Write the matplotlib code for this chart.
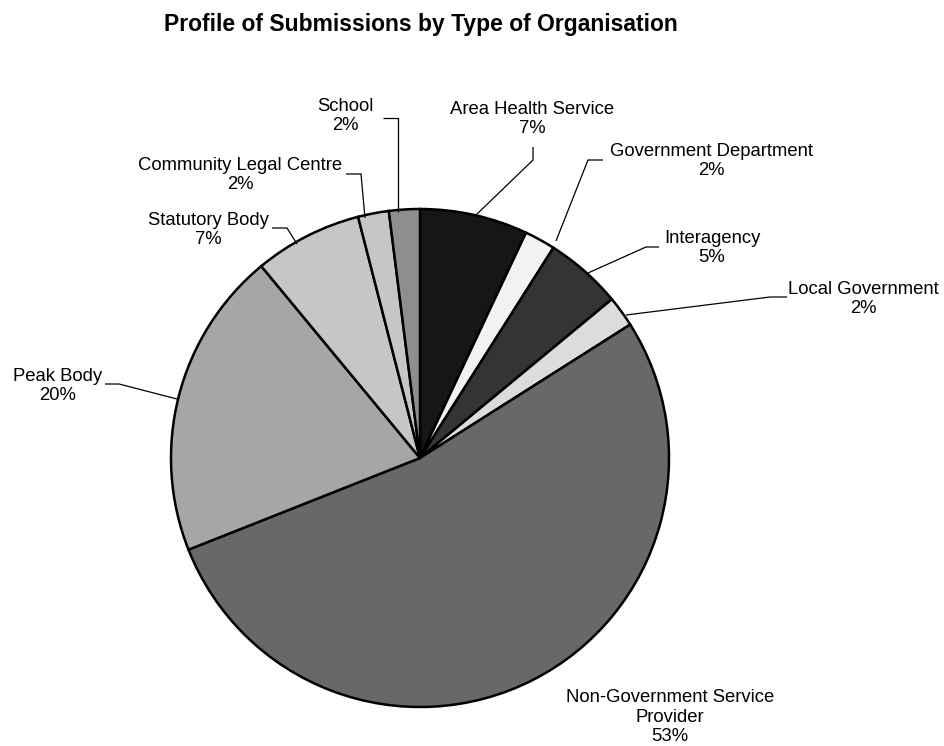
import matplotlib
matplotlib.use("Agg")
import matplotlib.pyplot as plt

plt.rcParams["font.family"] = ["Liberation Sans", "DejaVu Sans"]

# data (clockwise from 12 o'clock)
categories = ["Area Health Service", "Government Department", "Interagency",
              "Local Government", "Non-Government Service\nProvider", "Peak Body",
              "Statutory Body", "Community Legal Centre", "School"]
shares = [7, 2, 5, 2, 53, 20, 7, 2, 2]
colors = ["#161616", "#f2f2f2", "#343434", "#dcdcdc", "#686868",
          "#a6a6a6", "#c6c6c6", "#c6c6c6", "#8e8e8e"]

W, H = 945, 746


def py(y):
    # pixel row (from top) -> axes y (from bottom)
    return H - y


# label centre and leader path in pixels (text x, text y, leader points)
label_pos = [
    (532, 119, [(533, 147), (533, 160), (476, 215)]),
    (711, 161, [(603, 160), (588, 160), (556, 241)]),
    (712, 248, [(659, 247), (646, 247), (588, 273)]),
    (863, 299, [(787, 297), (770, 297), (626, 315)]),
    (670, 717, []),
    (58, 386, [(105, 384), (119, 384), (177, 399)]),
    (208, 230, [(272, 228), (287, 228), (297, 244)]),
    (240, 175, [(346, 174), (361, 174), (365, 218)]),
    (345, 116, [(383, 118), (398, 118), (398, 212)]),
]

fig = plt.figure(figsize=(W / 100, H / 100), dpi=100)
ax = fig.add_axes([0, 0, 1, 1])

ax.pie(shares, colors=colors, startangle=90, counterclock=False,
       center=(420, py(458)), radius=249, frame=True,
       wedgeprops=dict(edgecolor="black", linewidth=1.8))
ax.set_xlim(0, W)
ax.set_ylim(0, H)
ax.set_aspect("equal")
ax.axis("off")

for cat, val, (tx, ty, pts) in zip(categories, shares, label_pos):
    ax.text(tx, py(ty), f"{cat}\n{val}%", ha="center", va="center",
            fontsize=13.3, linespacing=1.2, color="black")
    if pts:
        ax.plot([p[0] for p in pts], [py(p[1]) for p in pts],
                color="black", linewidth=0.9, solid_capstyle="butt")

ax.text(421, py(24), "Profile of Submissions by Type of Organisation",
        ha="center", va="center", fontsize=16.5, fontweight="bold")

fig.savefig("out.png", dpi=100)
